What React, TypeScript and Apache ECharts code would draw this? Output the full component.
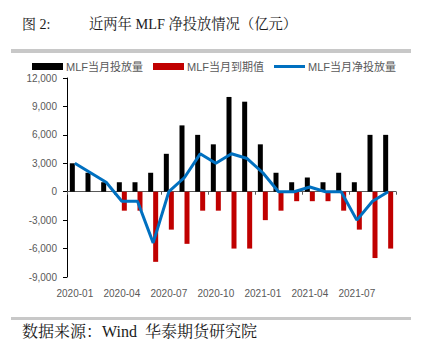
import React, { useEffect, useRef } from "react";
import * as echarts from "echarts";

const months = [
  "2020-01", "2020-02", "2020-03", "2020-04", "2020-05", "2020-06", "2020-07",
  "2020-08", "2020-09", "2020-10", "2020-11", "2020-12", "2021-01", "2021-02",
  "2021-03", "2021-04", "2021-05", "2021-06", "2021-07", "2021-08", "2021-09",
];
const injection = [3000, 2000, 1000, 1000, 1000, 2000, 4000, 7000, 6000, 5000, 10000, 9500, 5000, 2000, 1000, 1500, 1000, 2000, 1000, 6000, 6000];
const maturity = [0, 0, 0, -2000, -2000, -7400, -4000, -5500, -2000, -2000, -6000, -6000, -3000, -2000, -1000, -1000, -1000, -2000, -4000, -7000, -6000];
const netInjection = [3000, 2000, 1000, -1000, -1000, -5400, 0, 1500, 4000, 3000, 4000, 3500, 2000, 0, 0, 500, 0, 0, -3000, -1000, 0];

const seriesNames = ["MLF当月投放量", "MLF当月到期值", "MLF当月净投放量"];
const titleLabel = "图 2:";
const titleText = "近两年 MLF 净投放情况（亿元）";
const sourceText = "数据来源：Wind  华泰期货研究院";

const sans = "'Liberation Sans', 'Noto Sans CJK SC', sans-serif";
const serif = "'Liberation Serif', 'Noto Serif CJK SC', 'Noto Sans CJK SC', serif";

export default function App() {
  const ref = useRef<HTMLDivElement>(null);
  useEffect(() => {
    if (!ref.current) return;
    const chart = echarts.init(ref.current, null, { renderer: "svg" });
    chart.setOption({
      animation: false,
      backgroundColor: "#ffffff",
      grid: { left: 67, right: 32, top: 78, bottom: 72, containLabel: false },
      legend: {
        left: 27,
        top: 56,
        itemWidth: 31,
        itemHeight: 7,
        itemGap: 10,
        textStyle: { fontFamily: sans, fontSize: 11, color: "#595959", padding: [0, 0, 0, -2] },
        data: [
          { name: seriesNames[0], icon: "rect" },
          { name: seriesNames[1], icon: "rect" },
          { name: seriesNames[2], icon: "path://M0 0H31V3H0Z", itemStyle: { color: "#0070C0" } },
        ],
      },
      xAxis: [
        {
          type: "category",
          data: months,
          boundaryGap: true,
          axisLine: { onZero: true, lineStyle: { color: "#595959", width: 1 } },
          axisTick: { show: true, interval: 2, length: 3, lineStyle: { color: "#595959" } },
          axisLabel: { show: false },
          splitLine: { show: false },
        },
        {
          type: "category",
          data: months,
          position: "bottom",
          boundaryGap: true,
          axisLine: { show: false, onZero: false },
          axisTick: { show: false },
          axisLabel: { interval: 2, color: "#595959", fontSize: 10, fontFamily: sans, margin: 11 },
          splitLine: { show: false },
        },
      ],
      yAxis: {
        type: "value",
        min: -9000,
        max: 12000,
        interval: 3000,
        axisLine: { show: true, lineStyle: { color: "#000000", width: 1 } },
        axisTick: { show: true, length: 4, lineStyle: { color: "#000000" } },
        splitLine: { show: false },
        axisLabel: {
          color: "#595959",
          fontSize: 10,
          fontFamily: sans,
          margin: 10,
          formatter: (v: number) => v.toLocaleString("en-US"),
        },
      },
      series: [
        {
          name: seriesNames[0],
          type: "bar",
          data: injection,
          barWidth: 5,
          barGap: "0%",
          itemStyle: { color: "#000000" },
        },
        {
          name: seriesNames[1],
          type: "bar",
          data: maturity,
          barWidth: 5,
          barGap: "0%",
          itemStyle: { color: "#C00000" },
        },
        {
          name: seriesNames[2],
          type: "line",
          data: netInjection,
          symbol: "none",
          lineStyle: { color: "#0070C0", width: 3 },
          itemStyle: { color: "#0070C0" },
          z: 5,
        },
      ],
      graphic: [
        { type: "rect", shape: { x: 11, y: 49, width: 400, height: 4 }, style: { fill: "#c8c8c8" } },
        { type: "rect", shape: { x: 11, y: 317, width: 400, height: 3 }, style: { fill: "#c8c8c8" } },
        {
          type: "text",
          x: 22,
          y: 24,
          style: { text: titleLabel, fontFamily: serif, fontSize: 14, fill: "#1a1a1a", verticalAlign: "middle" },
        },
        {
          type: "text",
          x: 89,
          y: 24,
          style: { text: titleText, fontFamily: serif, fontSize: 14.3, fill: "#1a1a1a", verticalAlign: "middle" },
        },
        {
          type: "text",
          x: 22,
          y: 331,
          style: { text: sourceText, fontFamily: serif, fontSize: 16, fill: "#1a1a1a", verticalAlign: "middle" },
        },
      ],
    });
    return () => chart.dispose();
  }, []);
  return (
    <div
      ref={ref}
      style={{ position: "fixed", left: 0, top: 0, width: 428, height: 349 }}
    />
  );
}
